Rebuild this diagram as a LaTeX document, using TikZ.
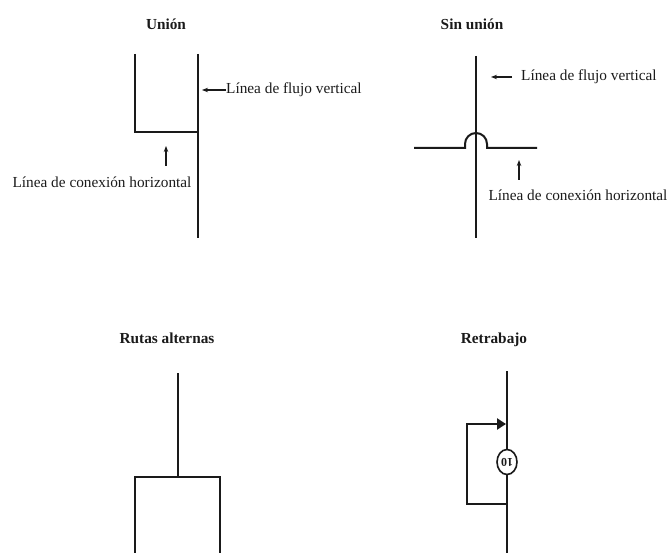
\documentclass[tikz,border=0pt]{standalone}
\usepackage{fontspec}
\setmainfont{Liberation Serif}
\usetikzlibrary{arrows.meta,shapes.geometric}
\definecolor{ink}{HTML}{1A1A1A}
\tikzset{
  heavy/.style={draw=ink,line width=2.8pt,line cap=butt,line join=miter},
  medium/.style={draw=ink,line width=2pt},
  pointer/.style={draw=ink,line width=1.2pt,-{Stealth[length=6pt,width=4.5pt]}},
  titletext/.style={font=\fontsize{15.3}{17}\selectfont\bfseries,text=ink,inner sep=0pt},
  labeltext/.style={font=\fontsize{15.3}{17}\selectfont,text=ink,inner sep=0pt},
}
\begin{document}
\begin{tikzpicture}[x=1pt,y=-1pt]
\useasboundingbox (0,0) rectangle (668,553);
% ---------- Union ----------
\node[titletext] (t1) at (166,24) {Unión};
\coordinate (u1) at (135,54);
\coordinate (u2) at (135,132);
\coordinate (u3) at (198,132);
\coordinate (u4) at (198,54);
\coordinate (u5) at (198,238);
\draw[heavy] (u1) -- (u2) -- (u3);
\draw[heavy] (u4) -- (u5);
\node[labeltext,anchor=west] (l1) at (226,90) {Línea de flujo vertical};
\coordinate (a1) at (202,90);
\draw[pointer] (l1.west) -- (a1);
\node[labeltext] (l2) at (102,182) {Línea de conexión horizontal};
\coordinate (a2t) at (166,166);
\coordinate (a2h) at (166,146);
\draw[pointer] (a2t) -- (a2h);
% ---------- Sin union ----------
\node[titletext] (t2) at (472,24) {Sin unión};
\coordinate (s1) at (476,56);
\coordinate (s2) at (476,238);
\draw[medium] (s1) -- (s2);
\coordinate (h1) at (414,148);
\coordinate (h2) at (465,148);
\coordinate (h3) at (487,148);
\coordinate (h4) at (537,148);
\draw[medium] (h1) -- (h2) -- ++(0,-4) arc[start angle=180,end angle=360,radius=11] -- (h3) -- (h4);
\node[labeltext,anchor=west] (l3) at (521,77) {Línea de flujo vertical};
\coordinate (a3t) at (512,77);
\coordinate (a3h) at (491,77);
\draw[pointer] (a3t) -- (a3h);
\node[labeltext] (l4) at (578,195) {Línea de conexión horizontal};
\coordinate (a4t) at (519,180);
\coordinate (a4h) at (519,160);
\draw[pointer] (a4t) -- (a4h);
% ---------- Rutas alternas ----------
\node[titletext] (t3) at (167,338) {Rutas alternas};
\coordinate (r1) at (178,373);
\coordinate (r2) at (178,477);
\coordinate (r3) at (135,555);
\coordinate (r4) at (135,477);
\coordinate (r5) at (220,477);
\coordinate (r6) at (220,555);
\draw[heavy] (r1) -- (r2);
\draw[heavy] (r3) -- (r4) -- (r5) -- (r6);
% ---------- Retrabajo ----------
\node[titletext] (t4) at (494,340) {Retrabajo};
\node[ellipse,draw=ink,line width=1.6pt,minimum width=20pt,minimum height=25pt,inner sep=0pt,
      font=\fontsize{12}{14}\selectfont\bfseries,text=ink] (c1) at (507,462) {\rotatebox{180}{10}};
\coordinate (k1) at (507,371);
\coordinate (k2) at (507,555);
\draw[heavy] (k1) -- (c1.north);
\draw[heavy] (c1.south) -- (k2);
\coordinate (b1) at (507,504);
\coordinate (b2) at (467,504);
\coordinate (b3) at (467,424);
\coordinate (b4) at (506,424);
\draw[heavy,-{Triangle[length=9pt,width=11pt]}] (b1) -- (b2) -- (b3) -- (b4);
\end{tikzpicture}
\end{document}
